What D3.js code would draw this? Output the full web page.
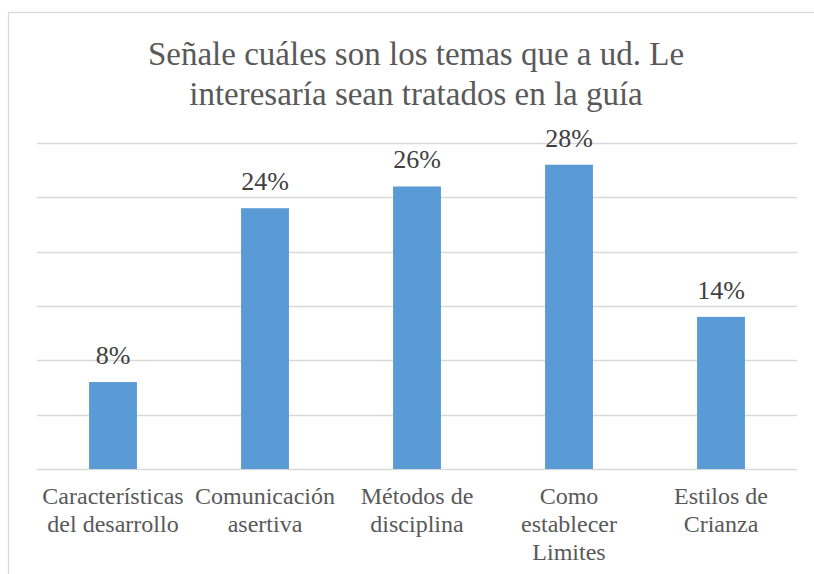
<!DOCTYPE html>
<html>

<head>
  <meta charset="utf-8">
  <style>
    body {
      margin: 0;
      padding: 0;
      background: white;
    }

    .grid line {
      stroke: #d9d9d9;
      stroke-width: 1.3;
    }

    .bar {
      fill: #5b9bd5;
    }
  </style>
</head>

<body>
  <div id="chart"></div>

  <script src="https://d3js.org/d3.v7.min.js"></script>
  <script>
    // chart data
    var titleLines = ["Señale cuáles son los temas que a ud. Le", "interesaría sean tratados en la guía"]
    var categories = ["Características del desarrollo", "Comunicación asertiva", "Métodos de disciplina",
      "Como establecer Limites", "Estilos de Crianza"]
    var categoryLines = [
      ["Características", "del desarrollo"],
      ["Comunicación", "asertiva"],
      ["Métodos de", "disciplina"],
      ["Como", "establecer", "Limites"],
      ["Estilos de", "Crianza"]
    ]
    var values = [8, 24, 26, 28, 14]
    var gridTicks = [0, 5, 10, 15, 20, 25, 30]

    var width = 814,
      height = 574
    var serif = "'Liberation Serif'"

    var svg = d3.select("#chart")
      .append("svg")
      .attr("width", width)
      .attr("height", height)
      .attr("font-family", "Liberation Serif")
      .style("font-family", serif, "important")

    // chart border (runs off the right and bottom of the page)
    svg.append("rect")
      .attr("x", 8.5)
      .attr("y", 12.5)
      .attr("width", 840)
      .attr("height", 640)
      .attr("fill", "none")
      .attr("stroke", "#d9d9d9")
      .attr("stroke-width", 1.3)

    var x = d3.scaleBand()
      .domain(categories)
      .range([37, 797])
      .paddingInner(0.685)
      .paddingOuter(0.3425)

    var y = d3.scaleLinear()
      .domain([0, 30])
      .range([469, 143])

    // gridlines
    svg.append("g")
      .attr("class", "grid")
      .selectAll("line")
      .data(gridTicks)
      .enter().append("line")
      .attr("x1", 37)
      .attr("x2", 797)
      .attr("y1", function(d) { return Math.round(y(d)) + 0.5 })
      .attr("y2", function(d) { return Math.round(y(d)) + 0.5 })

    // bars
    svg.append("g")
      .selectAll("rect")
      .data(values)
      .enter().append("rect")
      .attr("class", "bar")
      .attr("x", function(d, i) { return x(categories[i]) })
      .attr("width", x.bandwidth())
      .attr("y", function(d) { return y(d) })
      .attr("height", function(d) { return y(0) - y(d) })

    // data labels
    svg.append("g")
      .selectAll("text")
      .data(values)
      .enter().append("text")
      .style("font-family", serif, "important")
      .style("font-size", "26px")
      .attr("fill", "#404040")
      .attr("text-anchor", "middle")
      .attr("x", function(d, i) { return x(categories[i]) + x.bandwidth() / 2 })
      .attr("y", function(d) { return y(d) - 18 })
      .text(function(d) { return d + "%" })

    // category labels, one text per line
    categoryLines.forEach(function(lines, i) {
      svg.append("g")
        .selectAll("text")
        .data(lines)
        .enter().append("text")
        .style("font-family", serif, "important")
        .style("font-size", "24px")
        .attr("fill", "#595959")
        .attr("text-anchor", "middle")
        .attr("x", x(categories[i]) + x.bandwidth() / 2)
        .attr("y", function(d, j) { return 504 + j * 28 })
        .text(function(d) { return d })
    })

    // title
    svg.append("g")
      .selectAll("text")
      .data(titleLines)
      .enter().append("text")
      .style("font-family", serif, "important")
      .style("font-size", "33px")
      .attr("fill", "#595959")
      .attr("text-anchor", "middle")
      .attr("x", 416)
      .attr("y", function(d, i) { return 65 + i * 40 })
      .text(function(d) { return d })
  </script>
</body>

</html>
